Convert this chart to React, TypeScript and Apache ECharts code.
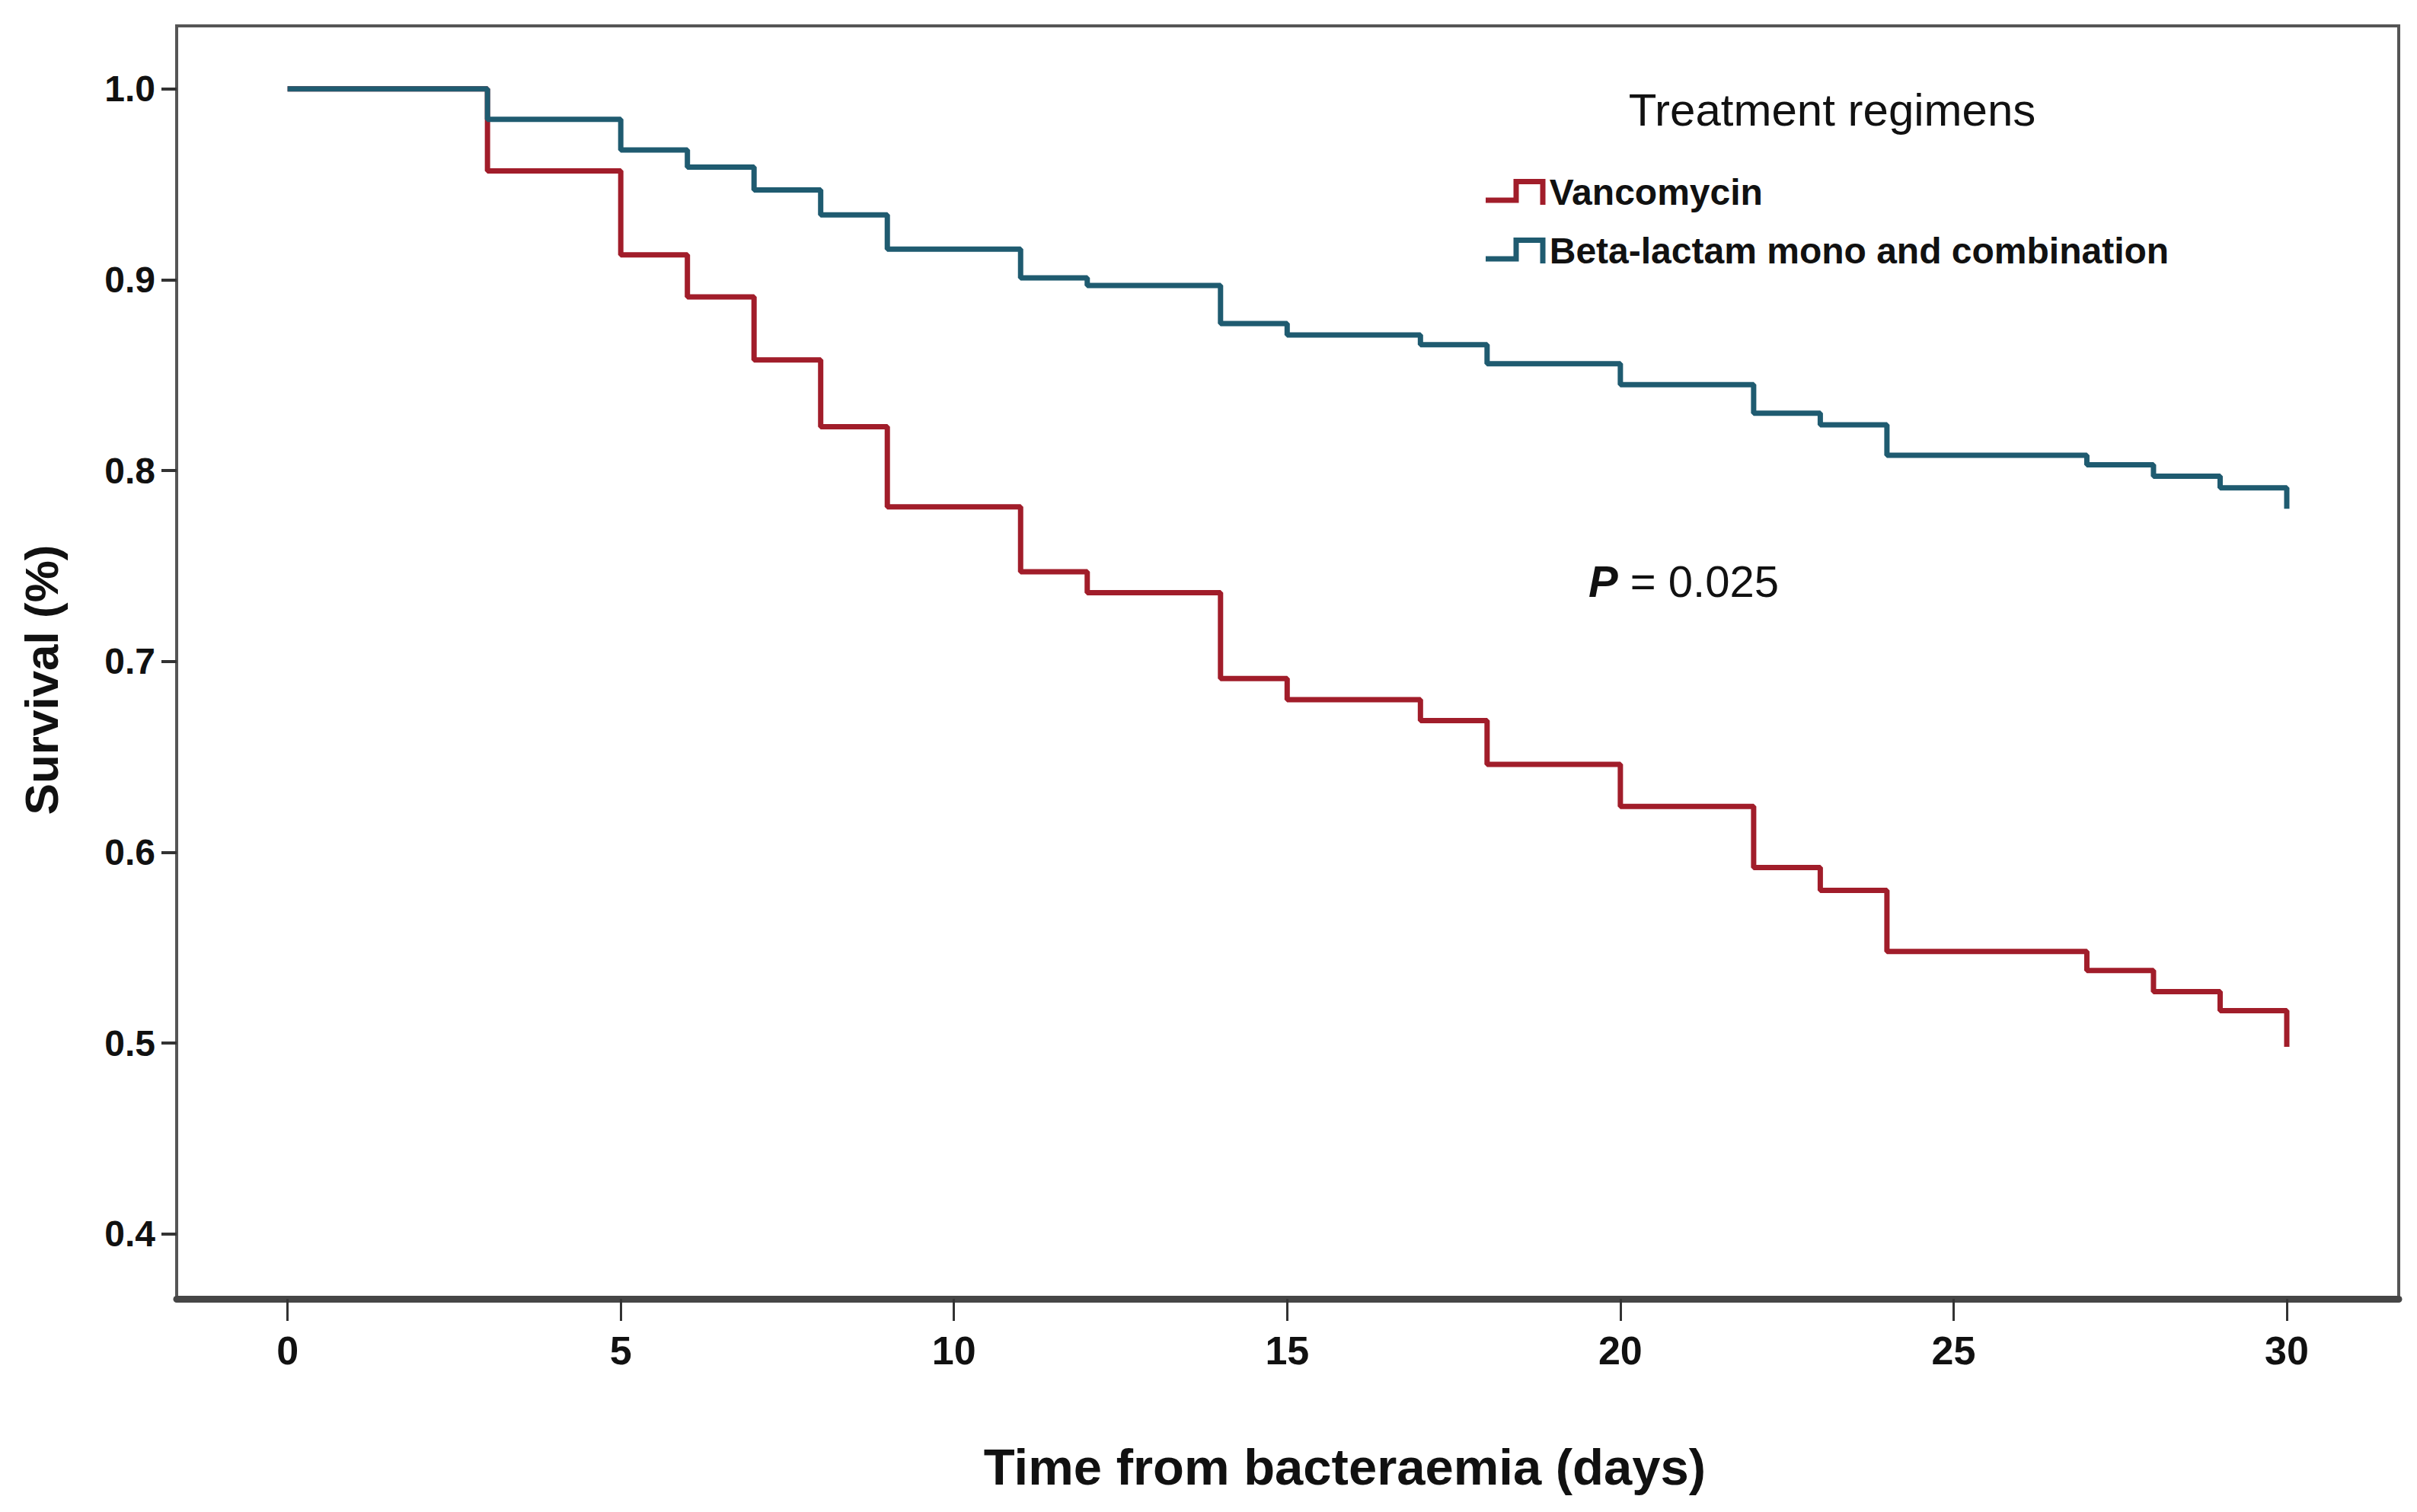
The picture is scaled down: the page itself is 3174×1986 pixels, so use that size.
import React, { useEffect, useRef } from "react";
import * as echarts from "echarts";

const days = [0, 3, 5, 6, 7, 8, 9, 11, 12, 14, 15, 17, 18, 20, 22, 23, 24, 27, 28, 29, 30];
const vancomycin = [1.0, 0.957, 0.913, 0.891, 0.858, 0.823, 0.781, 0.747, 0.736, 0.691, 0.68, 0.669, 0.646, 0.624, 0.592, 0.58, 0.548, 0.538, 0.527, 0.517, 0.498];
const betaLactam = [1.0, 0.984, 0.968, 0.959, 0.947, 0.934, 0.916, 0.901, 0.897, 0.877, 0.871, 0.866, 0.856, 0.845, 0.83, 0.824, 0.808, 0.803, 0.797, 0.791, 0.78];
const xTicks = [0, 5, 10, 15, 20, 25, 30];
const yTicks = [0.4, 0.5, 0.6, 0.7, 0.8, 0.9, 1.0];
const seriesNames = ["Vancomycin", "Beta-lactam mono and combination"];
const seriesColors = ["#a11d2a", "#1f5b70"];
const legendTitle = "Treatment regimens";
const xTitle = "Time from bacteraemia (days)";
const yTitle = "Survival (%)";
const pValue = "0.025";

const FONT = '"Liberation Sans", Arial, sans-serif';
const STEP_ICON =
  "path://M0,31.5L43.5,31.5L43.5,7L71.5,7L71.5,34L78.5,34L78.5,0L36.5,0L36.5,24.5L0,24.5Z";

export default function App() {
  const ref = useRef<HTMLDivElement>(null);

  useEffect(() => {
    if (!ref.current) return;
    const chart = echarts.init(ref.current, null, { renderer: "svg" });
    const toPairs = (vals: number[]) => days.map((d, i) => [d, vals[i]]);

    chart.setOption({
      animation: false,
      backgroundColor: "#ffffff",
      grid: {
        show: true,
        left: 232,
        top: 34,
        width: 2918,
        height: 1672,
        borderColor: "#555555",
        borderWidth: 4,
        backgroundColor: "transparent",
      },
      xAxis: {
        type: "value",
        min: -1.664,
        max: 31.68,
        axisLine: { show: true, onZero: false, lineStyle: { color: "#464646", width: 9 } },
        axisTick: {
          show: true,
          customValues: xTicks,
          length: 29,
          lineStyle: { color: "#333333", width: 3 },
        },
        axisLabel: {
          customValues: xTicks,
          margin: 42,
          fontSize: 52,
          fontWeight: "bold",
          color: "#111111",
          fontFamily: FONT,
        },
        splitLine: { show: false },
      },
      yAxis: {
        type: "value",
        min: 0.366,
        max: 1.033,
        axisLine: { show: false, onZero: false },
        axisTick: {
          show: true,
          customValues: yTicks,
          length: 20,
          lineStyle: { color: "#333333", width: 4 },
        },
        axisLabel: {
          customValues: yTicks,
          formatter: (v: number) => v.toFixed(1),
          margin: 28,
          fontSize: 48,
          fontWeight: "bold",
          color: "#111111",
          fontFamily: FONT,
        },
        splitLine: { show: false },
      },
      legend: {
        data: seriesNames,
        orient: "vertical",
        left: 1946,
        top: 223,
        itemWidth: 79,
        itemHeight: 34,
        itemGap: 29,
        icon: STEP_ICON,
        selectedMode: false,
        textStyle: { fontSize: 48, fontWeight: "bold", color: "#111111", fontFamily: FONT },
      },
      series: [
        {
          name: seriesNames[0],
          type: "line",
          step: "end",
          symbol: "none",
          data: toPairs(vancomycin),
          itemStyle: { color: seriesColors[0] },
          lineStyle: { color: seriesColors[0], width: 7 },
          z: 2,
        },
        {
          name: seriesNames[1],
          type: "line",
          step: "end",
          symbol: "none",
          data: toPairs(betaLactam),
          itemStyle: { color: seriesColors[1] },
          lineStyle: { color: seriesColors[1], width: 7 },
          z: 3,
        },
      ],
      graphic: [
        {
          type: "text",
          x: 54,
          y: 893,
          rotation: Math.PI / 2,
          style: {
            text: yTitle,
            fontSize: 62,
            fontWeight: "bold",
            fontFamily: FONT,
            fill: "#111111",
            align: "center",
            verticalAlign: "middle",
          },
        },
        {
          type: "text",
          x: 1766,
          y: 1926,
          style: {
            text: xTitle,
            fontSize: 67,
            fontWeight: "bold",
            fontFamily: FONT,
            fill: "#111111",
            align: "center",
            verticalAlign: "middle",
          },
        },
        {
          type: "text",
          x: 2406,
          y: 144,
          style: {
            text: legendTitle,
            fontSize: 60,
            fontFamily: FONT,
            fill: "#111111",
            align: "center",
            verticalAlign: "middle",
          },
        },
        {
          type: "text",
          x: 2086,
          y: 763,
          style: {
            text: "{p|P} = " + pValue,
            fontSize: 58,
            fontFamily: FONT,
            fill: "#111111",
            align: "left",
            verticalAlign: "middle",
            rich: {
              p: { fontSize: 58, fontStyle: "italic", fontWeight: "bold", fontFamily: FONT, fill: "#111111" },
            },
          },
        },
      ],
    });

    return () => chart.dispose();
  }, []);

  return (
    <div
      ref={ref}
      style={{ position: "fixed", left: 0, top: 0, width: "3174px", height: "1986px", background: "#fff" }}
    />
  );
}
